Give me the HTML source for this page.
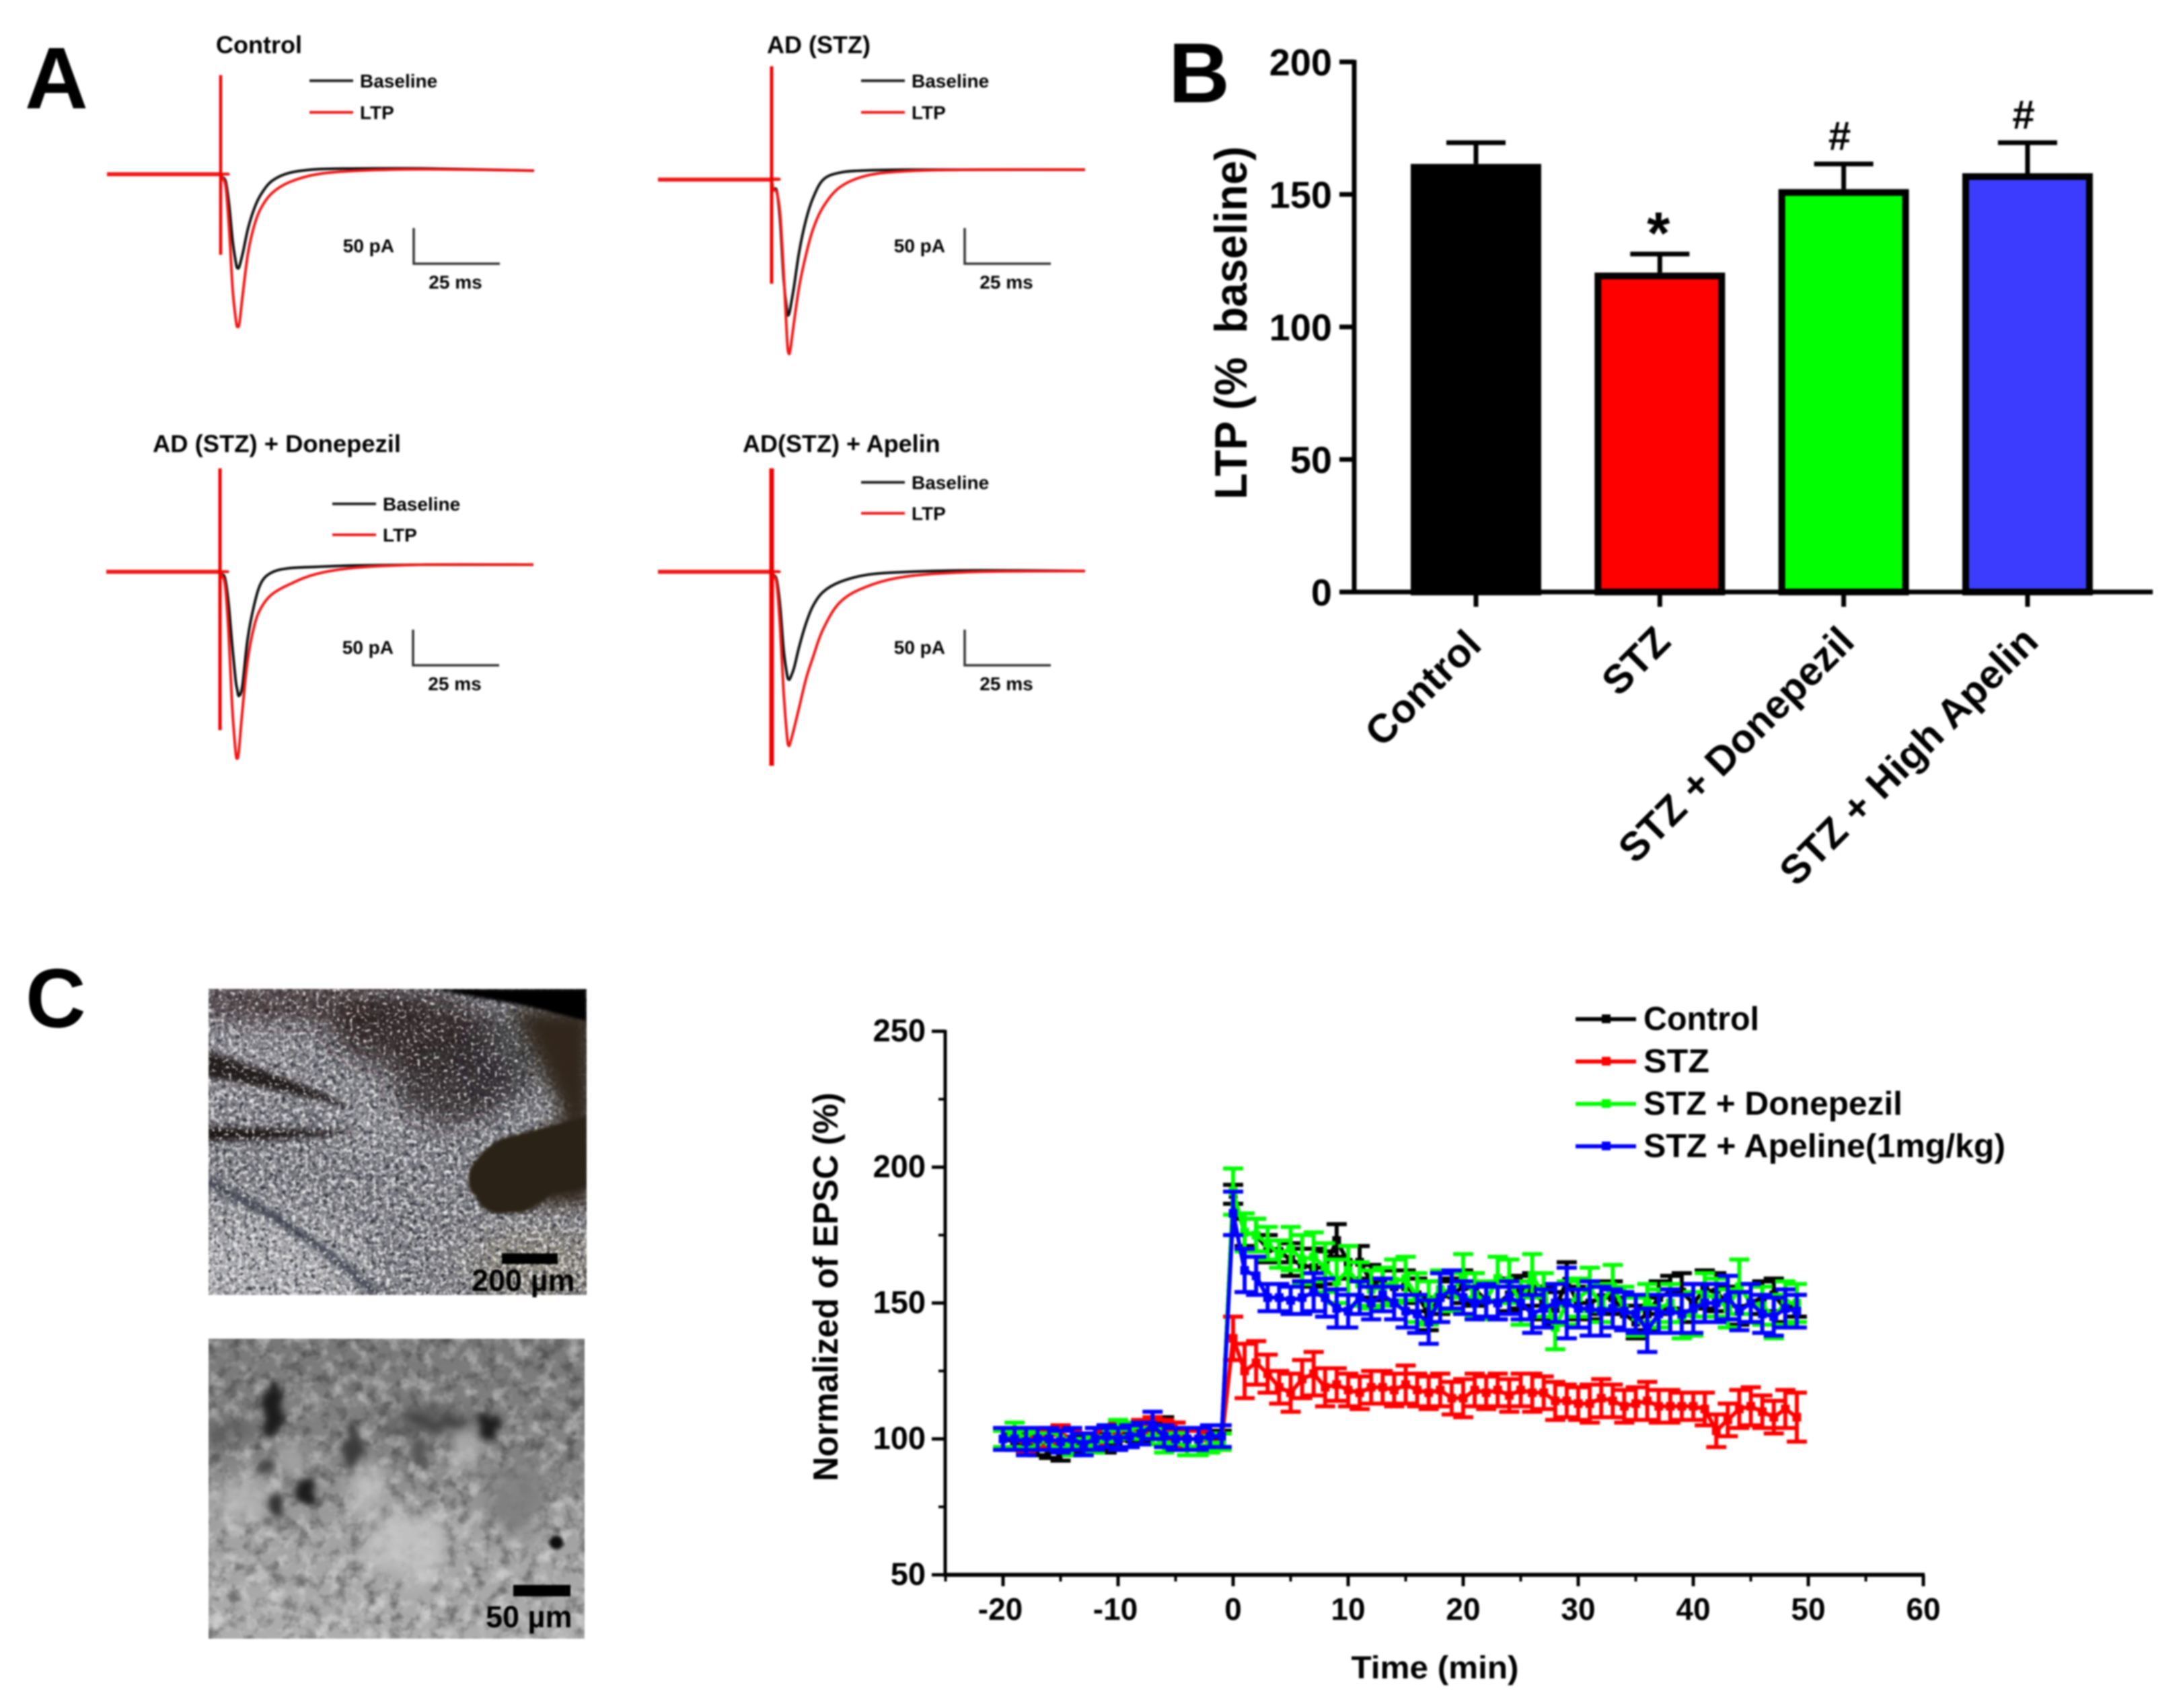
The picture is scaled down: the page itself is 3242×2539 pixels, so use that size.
<!DOCTYPE html>
<html lang="en">
<head>
<meta charset="utf-8">
<title>LTP figure</title>
<style>
html,body{margin:0;padding:0;background:#fff;}
svg{display:block;filter:blur(1.3px);}
text{font-family:"Liberation Sans",Arial,sans-serif;font-weight:bold;fill:#000;}
</style>
</head>
<body>
<svg id="fig" xmlns="http://www.w3.org/2000/svg" width="3242" height="2539" viewBox="0 0 3242 2539">
<defs>
  <clipPath id="clip1"><rect x="310" y="1470" width="562" height="455"/></clipPath>
  <clipPath id="clip2"><rect x="310" y="1990" width="559" height="446"/></clipPath>
  <filter id="b30" x="-60%" y="-60%" width="220%" height="220%"><feGaussianBlur stdDeviation="30"/></filter>
  <filter id="b18" x="-60%" y="-60%" width="220%" height="220%"><feGaussianBlur stdDeviation="18"/></filter>
  <filter id="b12" x="-50%" y="-50%" width="200%" height="200%"><feGaussianBlur stdDeviation="12"/></filter>
  <filter id="b6" x="-20%" y="-20%" width="140%" height="140%"><feGaussianBlur stdDeviation="4"/></filter>
  <filter id="b2" x="-20%" y="-20%" width="140%" height="140%"><feGaussianBlur stdDeviation="2"/></filter>
  <filter id="warp" x="-30%" y="-30%" width="160%" height="160%"><feTurbulence type="fractalNoise" baseFrequency="0.035" numOctaves="3" seed="5" result="n"/><feDisplacementMap in="SourceGraphic" in2="n" scale="34" xChannelSelector="R" yChannelSelector="G"/><feGaussianBlur stdDeviation="5"/></filter>
  <filter id="warpSoft" x="-30%" y="-30%" width="160%" height="160%"><feTurbulence type="fractalNoise" baseFrequency="0.025" numOctaves="3" seed="9" result="n"/><feDisplacementMap in="SourceGraphic" in2="n" scale="60" xChannelSelector="R" yChannelSelector="G"/><feGaussianBlur stdDeviation="12"/></filter>
  <filter id="speckW" x="0" y="0" width="100%" height="100%" color-interpolation-filters="sRGB"><feTurbulence type="fractalNoise" baseFrequency="0.15" numOctaves="2" seed="4"/><feColorMatrix values="0 0 0 0 1  0 0 0 0 1  0 0 0 0 1  3.6 0 0 0 -1.7"/></filter>
  <filter id="speckSparse" x="0" y="0" width="100%" height="100%" color-interpolation-filters="sRGB"><feTurbulence type="fractalNoise" baseFrequency="0.2" numOctaves="2" seed="23"/><feColorMatrix values="0 0 0 0 1  0 0 0 0 1  0 0 0 0 1  6 0 0 0 -3.5"/></filter>
  <filter id="speckK" x="0" y="0" width="100%" height="100%" color-interpolation-filters="sRGB"><feTurbulence type="fractalNoise" baseFrequency="0.16" numOctaves="2" seed="11"/><feColorMatrix values="0 0 0 0 0.12  0 0 0 0 0.13  0 0 0 0 0.18  0 3.4 0 0 -1.6"/></filter>
  <filter id="cloudW" x="0" y="0" width="100%" height="100%" color-interpolation-filters="sRGB"><feTurbulence type="fractalNoise" baseFrequency="0.045" numOctaves="4" seed="7"/><feColorMatrix values="0 0 0 0 1  0 0 0 0 1  0 0 0 0 1  3 0 0 0 -1.4"/></filter>
  <filter id="cloudK" x="0" y="0" width="100%" height="100%" color-interpolation-filters="sRGB"><feTurbulence type="fractalNoise" baseFrequency="0.05" numOctaves="4" seed="19"/><feColorMatrix values="0 0 0 0 0.1  0 0 0 0 0.1  0 0 0 0 0.1  0 3 0 0 -1.4"/></filter>
  <linearGradient id="grad2" x1="0" y1="0" x2="0" y2="1"><stop offset="0" stop-color="#787878"/><stop offset="0.4" stop-color="#848484"/><stop offset="0.65" stop-color="#a2a2a2"/><stop offset="1" stop-color="#aeaeae"/></linearGradient>
</defs>

<!-- Panel letters -->
<text x="37" y="161" font-size="130">A</text>
<text x="1737" y="152" font-size="126">B</text>
<text x="38" y="1527" font-size="124">C</text>

<!-- Panel A static text -->
<g font-size="36">
  <text x="321" y="79">Control</text>
  <text x="1140" y="79">AD (STZ)</text>
  <text x="227" y="672" textLength="369" lengthAdjust="spacingAndGlyphs">AD (STZ) + Donepezil</text>
  <text x="1104" y="672">AD(STZ) + Apelin</text>
</g>
<g id="panelA"></g>

<!-- Panel B -->
<g id="panelB"></g>
<text transform="translate(1853,480) rotate(-90)" text-anchor="middle" font-size="68" textLength="525" lengthAdjust="spacingAndGlyphs" xml:space="preserve">LTP (%  baseline)</text>

<!-- Panel C photos -->
<g clip-path="url(#clip1)">
  <rect x="310" y="1470" width="562" height="455" fill="#77777d"/>
  <g filter="url(#b30)">
    <ellipse cx="380" cy="1890" rx="170" ry="90" fill="#a8a8ac"/>
    <ellipse cx="350" cy="1590" rx="90" ry="40" fill="#8e8c92"/>
    <ellipse cx="560" cy="1660" rx="60" ry="40" fill="#8f8f94"/>
    <ellipse cx="800" cy="1880" rx="110" ry="45" fill="#8f8878"/>
  </g>
  <rect x="310" y="1470" width="562" height="455" filter="url(#speckK)" opacity="0.8"/>
  <rect x="310" y="1470" width="562" height="455" filter="url(#speckW)" opacity="0.7"/>
  <g filter="url(#b18)">
    <ellipse cx="470" cy="1492" rx="170" ry="24" fill="#2c1a1a" opacity="0.75"/>
    <ellipse cx="340" cy="1485" rx="60" ry="20" fill="#3e2c2e" opacity="0.65"/>
    <ellipse cx="610" cy="1530" rx="120" ry="55" fill="#251b1c" opacity="0.8"/>
    <ellipse cx="670" cy="1610" rx="90" ry="60" fill="#201a1b" opacity="0.72"/>
    <ellipse cx="750" cy="1570" rx="60" ry="70" fill="#2a2426" opacity="0.6"/>
  </g>
  <g filter="url(#b6)">
    <path d="M305 1562 L305 1602 C380 1612 450 1632 525 1646 C450 1610 380 1585 305 1562 Z" fill="#241a1c"/>
    <path d="M305 1674 L305 1696 C380 1696 470 1691 535 1683 C470 1679 380 1679 305 1674 Z" fill="#1a1517"/>
    <path d="M305 1755 C380 1790 470 1840 560 1925" fill="none" stroke="#3c3f4c" stroke-width="14" opacity="0.85"/>
  </g>
  <rect x="310" y="1470" width="562" height="455" filter="url(#speckSparse)" opacity="0.75"/>
  <path d="M762 1500 L880 1500 L880 1790 L760 1790 L790 1700 L838 1660 Z" fill="#33261a" filter="url(#b12)"/>
  <path d="M697 1742 C705 1720 725 1705 745 1692 L872 1660 L872 1765 L820 1775 C800 1790 785 1805 760 1803 C735 1808 715 1800 708 1780 C695 1770 695 1755 697 1742 Z" fill="#2a2116" filter="url(#b2)"/>
  <path d="M640 1470 L872 1470 L872 1518 L780 1495 Z" fill="#040404" filter="url(#b2)"/>
  <rect x="746" y="1863" width="83" height="16" fill="#000"/>
</g>
<text x="701" y="1919" font-size="45">200 µm</text>

<g clip-path="url(#clip2)">
  <rect x="310" y="1990" width="559" height="446" fill="url(#grad2)"/>
  <rect x="310" y="1990" width="559" height="446" filter="url(#cloudK)" opacity="0.38"/>
  <rect x="310" y="1990" width="559" height="446" filter="url(#cloudW)" opacity="0.38"/>
  <g filter="url(#warpSoft)" opacity="0.8">
    <ellipse cx="606" cy="2300" rx="60" ry="50" fill="#c8c8c8"/>
    <ellipse cx="350" cy="2225" rx="40" ry="25" fill="#bcbcbc"/>
    <ellipse cx="380" cy="2235" rx="20" ry="30" fill="#b8b8b8"/>
    <ellipse cx="542" cy="2215" rx="32" ry="32" fill="#c4c4c4"/>
    <ellipse cx="689" cy="2150" rx="25" ry="32" fill="#bcbcbc"/>
    <ellipse cx="440" cy="2170" rx="22" ry="28" fill="#acacac"/>
    <ellipse cx="770" cy="2230" rx="45" ry="55" fill="#797979"/>
    <ellipse cx="640" cy="2115" rx="80" ry="22" fill="#555"/>
    <ellipse cx="345" cy="2130" rx="45" ry="14" fill="#4a4a4a"/>
  </g>
  <g filter="url(#warp)" fill="#1e1e1e">
    <ellipse cx="407" cy="2095" rx="13" ry="42"/>
    <ellipse cx="524" cy="2150" rx="12" ry="38" fill="#3a3a3a"/>
    <ellipse cx="459" cy="2220" rx="11" ry="28"/>
    <ellipse cx="408" cy="2242" rx="10" ry="20" fill="#333"/>
    <ellipse cx="392" cy="2178" rx="16" ry="12" fill="#444"/>
    <ellipse cx="727" cy="2119" rx="18" ry="20"/>
    <ellipse cx="655" cy="2115" rx="42" ry="8" fill="#444"/>
    <ellipse cx="625" cy="2160" rx="10" ry="24" fill="#555"/>
  </g>
  <circle cx="827" cy="2293" r="10" fill="#0c0c0c" filter="url(#b2)"/>
  <rect x="763" y="2356" width="85" height="17" fill="#000"/>
</g>
<text x="722" y="2419" font-size="45">50 µm</text>

<!-- Panel C chart -->
<g id="panelC"></g>
<text transform="translate(1245,1913) rotate(-90)" text-anchor="middle" font-size="52" textLength="578" lengthAdjust="spacingAndGlyphs">Normalized of EPSC (%)</text>
<text x="2133" y="2495" text-anchor="middle" font-size="47" textLength="249" lengthAdjust="spacingAndGlyphs">Time (min)</text>

<script>
// ---------- Panel A data: current (pA) at each time after stimulus (ms) ----------
const traceTimes = [0,0.5,1.5,2.5,3.5,4.5,5,5.5,6.5,8,10,12,15,20,28,40,60,91];
const controlBaseline = [0,-4,-11,-45,-94,-126,-132,-128,-109,-75,-45,-26,-9,2,7,8,8,5];
const controlLtp = [0,-5,-19,-79,-162,-207,-214,-207,-165,-109,-68,-45,-26,-11,0,5,7,5];
const stzBaseline = [0,-14,-16,-60,-140,-185,-189,-178,-150,-101,-56,-26,0,10,13,14,14,14];
const stzLtp = [0,-14,-18,-50,-130,-225,-244,-236,-200,-150,-105,-70,-38,-10,6,12,14,14];
const donepezilBaseline = [0,-3,-10,-45,-100,-150,-165,-174,-160,-95,-45,-15,-1,5,7,9,10,10];
const donepezilLtp = [0,-5,-20,-85,-185,-250,-262,-250,-195,-125,-75,-50,-32,-18,-3,6,10,10];
const apelinBaseline = [0,-4,-12,-50,-110,-145,-151,-148,-135,-105,-72,-48,-28,-14,-4,0,2,1];
const apelinLtp = [0,-5,-18,-80,-170,-232,-244,-238,-220,-190,-150,-120,-80,-42,-20,-6,0,1];
const stimulusPeaks = [139,159,145,145];
const stimulusTroughs = [-113,-146,-222,-272];

// ---------- Panel B data ----------
const barCategories = ['Control','STZ','STZ + Donepezil','STZ + High Apelin'];
const ltpMeans = [161.5,120.5,152,158];
const ltpErrors = [8,7,9.5,11.5];
const barColors = ['#000000','#ff0000','#00ff00','#3c3cff'];
const barMarks = ['','*','#','#'];
const barTicks = [0,50,100,150,200];

// ---------- Panel C data: normalized EPSC (%) for t = -20 … 49 min ----------
const minutes = [-20,-19,-18,-17,-16,-15,-14,-13,-12,-11,-10,-9,-8,-7,-6,-5,-4,-3,-2,-1,0,1,2,3,4,5,6,7,8,9,10,11,12,13,14,15,16,17,18,19,20,21,22,23,24,25,26,27,28,29,30,31,32,33,34,35,36,37,38,39,40,41,42,43,44,45,46,47,48,49];
const controlMean = [100,99,98,97,96,95,97,98,99,98,99,100,102,103,105,103,100,100,100,100,190,176,175,170,169,166,164,163,163,173,165,165,158,157,156,156,153,146,152,153,156,155,151,150,153,154,155,150,148,158,150,150,152,152,146,143,146,152,154,154,150,155,154,150,148,150,152,153,148,149];
const controlErr = [3,3,3,3,3,3,3,3,3,3,3,3,3,3,3,3,3,3,3,3,3.5,5,6,5,4,6,6,7,6,6,6,6,6,6,6,6,6,6,6,6,6,6,6,6,6,6,6,6,6,7,6,6,6,6,6,6,6,6,6,7,7,7,7,6,6,7,6,6,5,4];
const stzMean = [100,100,98,100,101,102,100,99,101,100,103,103,104,105,104,103,100,100,99,99,137,125,128,124,119,117,122,124,119,120,118,117,119,119,118,120,118,117,118,115,115,118,117,118,116,118,117,117,114,114,113,113,115,114,112,113,114,112,112,112,112,111,103,107,111,112,110,108,111,108];
const stzErr = [3,3,3,3,3,3,3,3,3,3,3,3,3,3,3,3,3,3,3,3,8,10,8,7,6,7,7,8,7,6,6,6,6,6,6,7,6,6,6,6,7,6,6,6,6,6,7,6,7,6,6,7,7,6,6,6,7,6,6,5,5,6,6,6,7,7,6,6,7,9];
const donepezilMean = [100,103,100,99,99,100,97,97,98,102,104,103,101,101,98,99,97,97,98,99,191,176,175,172,168,170,166,167,163,158,162,157,155,156,158,159,152,150,155,154,160,153,151,159,158,150,160,153,141,150,152,155,150,156,148,145,150,148,150,145,146,153,152,148,156,150,149,145,150,150];
const donepezilErr = [3,3,3,3,3,3,3,3,3,3,3,3,3,3,3,3,3,3,3,3,8.5,7,6,6,5,8,9,9,9,8,9,8,7,7,8,8,9,8,7,7,8,8,7,8,8,8,8,8,8,8,7,8,7,8,8,7,7,7,7,8,8,8,7,7,10,7,7,8,8,7];
const apelinMean = [100,100,99,100,100,99,100,98,100,101,100,101,102,105,101,100,100,100,101,101,183,162,160,152,152,151,152,154,152,148,147,152,150,153,150,147,146,143,152,155,152,150,151,150,152,150,146,148,150,150,148,148,147,148,147,146,140,146,147,146,148,150,150,152,147,150,146,145,148,147];
const apelinErr = [4,4,5,4,4,4,4,4,4,4,4,4,4,5,4,4,4,4,4,4,8,8,7,5,5,5,6,7,7,7,6,6,6,6,6,6,7,8,9,7,6,6,6,6,6,6,7,7,7,13,7,10,9,7,7,7,8,7,8,7,9,7,7,8,7,7,7,7,7,6];
const seriesNames = ['Control','STZ','STZ + Donepezil','STZ + Apeline(1mg/kg)'];
const seriesColors = ['#000000','#ff0000','#00ff00','#0000ff'];
const timeMajorTicks = [-20,-10,0,10,20,30,40,50,60];
const timeMinorTicks = [-25,-15,-5,5,15,25,35,45,55];
const epscMajorTicks = [50,100,150,200,250];
const epscMinorTicks = [75,125,175,225];

// ---------- helpers ----------
const NS = 'http://www.w3.org/2000/svg';
function mk(tag, parent, attrs, txt){
  const n = document.createElementNS(NS, tag);
  for (const k in attrs) n.setAttribute(k, attrs[k]);
  if (txt !== undefined) n.textContent = txt;
  parent.appendChild(n);
  return n;
}
function smoothPath(p){
  let d = 'M' + p[0][0].toFixed(1) + ' ' + p[0][1].toFixed(1);
  for (let i = 0; i < p.length - 1; i++){
    const a = p[Math.max(i-1,0)], b = p[i], c = p[i+1], e = p[Math.min(i+2,p.length-1)];
    const c1x = b[0] + (c[0]-a[0])/6, c1y = b[1] + (c[1]-a[1])/6;
    const c2x = c[0] - (e[0]-b[0])/6, c2y = c[1] - (e[1]-b[1])/6;
    d += 'C' + c1x.toFixed(1) + ' ' + c1y.toFixed(1) + ' ' + c2x.toFixed(1) + ' ' + c2y.toFixed(1) + ' ' + c[0].toFixed(1) + ' ' + c[1].toFixed(1);
  }
  return d;
}

// ---------- Panel A ----------
const gA = document.getElementById('panelA');
const msPx = 5.12, paPx = 1.06, preMs = 33;
function drawTraces(key, idx, x0, y0, blackVals, redVals, stimW, legX, legY1, legY2, barY){
  const g = mk('g', gA, {});
  
  
  const tx = t => x0 + t * msPx;
  const ty = v => y0 - v * paPx;
  const build = vals => {
    const pts = [[tx(-preMs), ty(0)], [tx(-0.2), ty(0)]];
    traceTimes.forEach((t,i) => pts.push([tx(t), ty(vals[i])]));
    return smoothPath(pts);
  };
  const black = mk('path', g, {d: build(blackVals), fill:'none', stroke:'#111', 'stroke-width':4});
  
  
  const pre = mk('line', g, {x1:tx(-preMs), x2:tx(0), y1:ty(0), y2:ty(0), stroke:'#f01818', 'stroke-width':6});
  
  
  const red = mk('path', g, {d: build(redVals), fill:'none', stroke:'#f01818', 'stroke-width':4});
  
  
  const stim = mk('line', g, {x1:x0, x2:x0, y1:ty(stimulusPeaks[idx]), y2:ty(stimulusTroughs[idx]), stroke:'#f00000', 'stroke-width':stimW});
  
  
  // legend
  const l1 = mk('line', g, {x1:legX, x2:legX+65, y1:legY1, y2:legY1, stroke:'#222', 'stroke-width':4});
  
  
  const t1 = mk('text', g, {x:legX+75, y:legY1+10, 'font-size':28}, 'Baseline');
  
  
  const l2 = mk('line', g, {x1:legX, x2:legX+65, y1:legY2, y2:legY2, stroke:'#f01818', 'stroke-width':4});
  
  
  const t2 = mk('text', g, {x:legX+75, y:legY2+10, 'font-size':28}, 'LTP');
  
  
  // scale bar: 50 pA / 25 ms
  const bx = x0 + 287;
  const sb = mk('path', g, {d:'M' + bx + ' ' + (barY - 50*paPx) + 'V' + barY + 'H' + (bx + 25*msPx), fill:'none', stroke:'#333', 'stroke-width':3.5});
  
  
  const s1 = mk('text', g, {x:bx-29, y:barY-17, 'text-anchor':'end', 'font-size':28}, '50 pA');
  
  
  const s2 = mk('text', g, {x:bx+62, y:barY+37, 'text-anchor':'middle', 'font-size':28}, '25 ms');
  
  
}
drawTraces('control', 0, 328, 259, controlBaseline, controlLtp, 4.5, 460, 120, 167, 392);
drawTraces('ad-stz', 1, 1147, 267, stzBaseline, stzLtp, 5, 1280, 120, 167, 392);
drawTraces('donepezil', 2, 327, 850, donepezilBaseline, donepezilLtp, 5, 494, 749, 795, 989);
drawTraces('apelin', 3, 1147, 850, apelinBaseline, apelinLtp, 7, 1280, 717, 763, 989);

// ---------- Panel B ----------
const gB = document.getElementById('panelB');
const yB = v => 880 - v * 3.94;
const xB = i => 2194 + i * 273.3;
barCategories.forEach((c,i) => {
  const cx = xB(i), top = yB(ltpMeans[i]), errTop = yB(ltpMeans[i] + ltpErrors[i]);
  const eb = mk('path', gB, {d:'M' + cx + ' ' + top + 'V' + errTop + 'M' + (cx-44) + ' ' + errTop + 'H' + (cx+44), stroke:'#000', 'stroke-width':7, fill:'none'});
  
  
  const r = mk('rect', gB, {x:cx-92, y:top+5, width:184, height:880-top-5, fill:barColors[i], stroke:'#000', 'stroke-width':10});
  
  
  const tk = mk('line', gB, {x1:cx, x2:cx, y1:880, y2:902, stroke:'#000', 'stroke-width':7});
  
  
  const lb = mk('text', gB, {'text-anchor':'end', 'font-size':60, transform:'translate(' + (cx + (i === 0 ? 11 : 19)) + ',' + (i === 0 ? 962 : 957) + ') rotate(-45)'}, c);
  
  
  if (barMarks[i]){
    const star = barMarks[i] === '*';
    const m = mk('text', gB, {x:cx - (star ? 2 : 6), y:errTop + (star ? -1 : -21), 'text-anchor':'middle', 'font-size':star ? 88 : 60}, barMarks[i]);
    
    
  }
});
barTicks.forEach(v => {
  const tk = mk('line', gB, {x1:1991, x2:2013, y1:yB(v), y2:yB(v), stroke:'#000', 'stroke-width':7});
  
  
  const lb = mk('text', gB, {x:1980, y:yB(v)+20, 'text-anchor':'end', 'font-size':56}, String(v));
  
  
});
const axYB = mk('line', gB, {x1:2013, x2:2013, y1:yB(200)-3, y2:883, stroke:'#000', 'stroke-width':7});


const axXB = mk('line', gB, {x1:1991, x2:3200, y1:880, y2:880, stroke:'#000', 'stroke-width':7});



// ---------- Panel C ----------
const gC = document.getElementById('panelC');
const xC = t => 1833 + t * 17.1;
const yC = v => 2341 - (v - 50) * 4.04;
[[controlMean,controlErr],[stzMean,stzErr],[donepezilMean,donepezilErr],[apelinMean,apelinErr]].forEach((s,k) => {
  const g = mk('g', gC, {});
  
  
  const col = seriesColors[k];
  const mean = s[0], err = s[1];
  let d = '', eb = '';
  minutes.forEach((t,i) => {
    const x = xC(t), y = yC(mean[i]);
    d += (i ? 'L' : 'M') + x.toFixed(1) + ' ' + y.toFixed(1);
    const u = yC(mean[i] + err[i]), b = yC(mean[i] - err[i]);
    eb += 'M' + x.toFixed(1) + ' ' + u.toFixed(1) + 'V' + b.toFixed(1);
    eb += 'M' + (x-15).toFixed(1) + ' ' + u.toFixed(1) + 'H' + (x+15).toFixed(1);
    eb += 'M' + (x-15).toFixed(1) + ' ' + b.toFixed(1) + 'H' + (x+15).toFixed(1);
  });
  const ln = mk('path', g, {d:d, fill:'none', stroke:col, 'stroke-width':6});
  
  
  const er = mk('path', g, {d:eb, fill:'none', stroke:col, 'stroke-width':6});
  
  
  minutes.forEach((t,i) => {
    const pt = mk('rect', g, {x:xC(t)-6.5, y:yC(mean[i])-6.5, width:13, height:13, fill:col});
    
    
  });
});
const axYC = mk('line', gC, {x1:1405, x2:1405, y1:yC(250)-2, y2:yC(50)+3, stroke:'#000', 'stroke-width':5});


const axXC = mk('line', gC, {x1:1403, x2:xC(60)+2, y1:yC(50), y2:yC(50), stroke:'#000', 'stroke-width':6});


epscMajorTicks.forEach(v => {
  const tk = mk('line', gC, {x1:1385, x2:1405, y1:yC(v), y2:yC(v), stroke:'#000', 'stroke-width':5});
  
  
  const lb = mk('text', gC, {x:1376, y:yC(v)+15, 'text-anchor':'end', 'font-size':47}, String(v));
  
  
});
epscMinorTicks.forEach(v => {
  const tk = mk('line', gC, {x1:1395, x2:1405, y1:yC(v), y2:yC(v), stroke:'#000', 'stroke-width':4});
  
  
});
timeMajorTicks.forEach(v => {
  const tk = mk('line', gC, {x1:xC(v), x2:xC(v), y1:yC(50), y2:yC(50)+17, stroke:'#000', 'stroke-width':5});
  
  
  const lb = mk('text', gC, {x:xC(v)-(v < 0 ? 4 : 0), y:2408, 'text-anchor':'middle', 'font-size':46}, String(v));
  
  
});
timeMinorTicks.forEach(v => {
  const tk = mk('line', gC, {x1:xC(v), x2:xC(v), y1:yC(50), y2:yC(50)+10, stroke:'#000', 'stroke-width':4});
  
  
});
const legC = mk('g', gC, {});


seriesNames.forEach((nm,i) => {
  const y = 1515 + i * 63;
  const ln = mk('line', legC, {x1:2342, x2:2432, y1:y, y2:y, stroke:seriesColors[i], 'stroke-width':6});
  
  
  const mkr = mk('rect', legC, {x:2381, y:y-7, width:13, height:13, fill:seriesColors[i]});
  
  
  const lb = mk('text', legC, {x:2443, y:y+16, 'font-size':49, textLength:[172,98,385,538][i], lengthAdjust:'spacingAndGlyphs'}, nm);
  
  
});
</script>
</svg>
</body>
</html>
